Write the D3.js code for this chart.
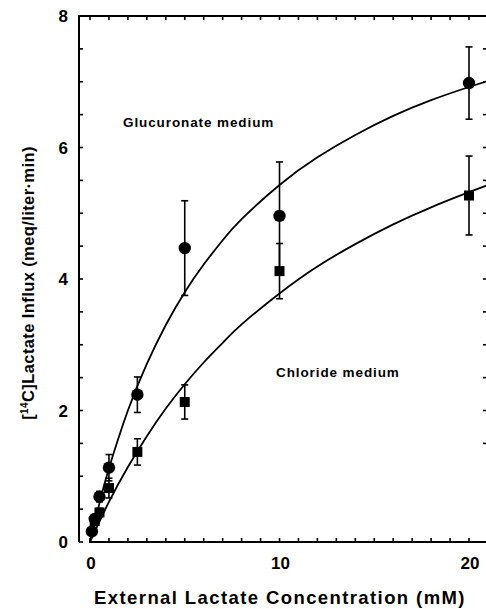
<!DOCTYPE html>
<html>
<head>
<meta charset="utf-8">
<script src="https://cdn.jsdelivr.net/npm/d3@7"></script>
<style>
  html, body { margin: 0; padding: 0; background: #fff; }
  svg { display: block; }
  text { font-family: "Liberation Sans", Arial, Helvetica, sans-serif; font-weight: bold; fill: #000; }
</style>
</head>
<body>
<svg id="chart" width="486" height="609"></svg>
<script>
// ---- data ----
const glucConc   = [0.1, 0.25, 0.5, 1, 2.5, 5, 10, 20];
const glucInflux = [0.16, 0.35, 0.69, 1.13, 2.24, 4.47, 4.96, 6.98];
const glucErr    = [0, 0, 0.08, 0.2, 0.27, 0.72, 0.82, 0.55];

const chlConc    = [0.25, 0.5, 1, 2.5, 5, 10, 20];
const chlInflux  = [0.32, 0.45, 0.82, 1.37, 2.13, 4.12, 5.27];
const chlErr     = [0, 0.06, 0.15, 0.2, 0.26, 0.42, 0.6];

// fitted curves
const glucCurveX = [0, 0.5, 1, 2, 3, 4, 5, 6, 7, 8, 10, 12, 14, 16, 18, 20, 21];
const glucCurveY = [0, 0.59, 1.12, 2.0, 2.71, 3.30, 3.80, 4.22, 4.59, 4.91, 5.43, 5.85, 6.19, 6.48, 6.72, 6.92, 7.01];
const chlCurveX  = [0, 1, 2, 3, 4, 5, 6, 7, 8, 10, 12, 14, 16, 18, 20, 21];
const chlCurveY  = [0, 0.61, 1.14, 1.61, 2.03, 2.40, 2.73, 3.03, 3.31, 3.78, 4.19, 4.53, 4.83, 5.09, 5.32, 5.43];

const xTickLabels = [0, 10, 20];
const yTickLabels = [0, 2, 4, 6, 8];
const xMinorTicks = d3.range(0, 22, 1);
const yMinorTicks = d3.range(0, 8.01, 0.5);
const rightTicks  = d3.range(1.5, 8.01, 0.5);

// ---- scales ----
const x = d3.scaleLinear().domain([0, 20]).range([90, 469]);
const y = d3.scaleLinear().domain([0, 8]).range([542, 16]);

const svg = d3.select("#chart");

// frame
const leftX = 79, rightX = 488;
const frame = svg.append("g").attr("stroke", "#000").attr("stroke-width", 2).attr("fill", "none");
frame.append("line").attr("x1", leftX).attr("x2", leftX).attr("y1", y(8) - 1).attr("y2", y(0));
frame.append("line").attr("x1", leftX).attr("x2", rightX).attr("y1", y(8)).attr("y2", y(8));
frame.append("line").attr("x1", x(0) - 1).attr("x2", rightX).attr("y1", y(0)).attr("y2", y(0));
frame.append("line").attr("x1", rightX).attr("x2", rightX).attr("y1", y(8)).attr("y2", y(0));

// ticks
const ticks = svg.append("g").attr("stroke", "#000").attr("stroke-width", 1.6);
ticks.selectAll(".lt").data(yMinorTicks).join("line")
  .attr("x1", leftX).attr("x2", leftX + 4).attr("y1", d => y(d)).attr("y2", d => y(d));
ticks.selectAll(".rt").data(rightTicks).join("line")
  .attr("x1", rightX - 5).attr("x2", rightX).attr("y1", d => y(d)).attr("y2", d => y(d));
ticks.selectAll(".bt").data(xMinorTicks).join("line")
  .attr("x1", d => x(d)).attr("x2", d => x(d)).attr("y1", y(0)).attr("y2", y(0) - 4);
ticks.selectAll(".tt").data(xMinorTicks).join("line")
  .attr("x1", d => x(d)).attr("x2", d => x(d)).attr("y1", y(8)).attr("y2", y(8) + 4);

// tick labels
svg.selectAll(".yl").data(yTickLabels).join("text")
  .attr("x", 68).attr("y", d => y(d) + 6)
  .attr("text-anchor", "end").attr("font-size", 17).text(d => d);
svg.selectAll(".xl").data(xTickLabels).join("text")
  .attr("x", d => x(d) + 1).attr("y", 569)
  .attr("text-anchor", "middle").attr("font-size", 17).text(d => d);

// axis titles
svg.append("text").attr("x", 280).attr("y", 604).attr("text-anchor", "middle")
  .attr("font-size", 18.5).attr("letter-spacing", 1.4)
  .text("External Lactate Concentration (mM)");

const yt = svg.append("text")
  .attr("transform", "translate(34,283) rotate(-90)")
  .attr("text-anchor", "middle").attr("font-size", 16.5).attr("letter-spacing", 0.4);
yt.append("tspan").text("[");
yt.append("tspan").attr("font-size", 10).attr("dy", -6).text("14");
yt.append("tspan").attr("dy", 6).text("C]Lactate Influx (meq/liter\u00B7min)");

// series labels
svg.append("text").attr("x", 123).attr("y", 127).attr("font-size", 13.5).attr("letter-spacing", 0.9)
  .text("Glucuronate medium");
svg.append("text").attr("x", 276).attr("y", 377).attr("font-size", 13.5).attr("letter-spacing", 0.9)
  .text("Chloride medium");

// curves
const line = d3.line().x(d => x(d[0])).y(d => y(d[1])).curve(d3.curveNatural);
const curves = svg.append("g").attr("fill", "none").attr("stroke", "#000").attr("stroke-width", 1.8);
curves.append("path").attr("d", line(glucCurveX.map((v, i) => [v, glucCurveY[i]])));
curves.append("path").attr("d", line(chlCurveX.map((v, i) => [v, chlCurveY[i]])));

// error bars
function errorBars(cx, cy, ce) {
  const g = svg.append("g").attr("stroke", "#000").attr("stroke-width", 1.6);
  const data = cx.map((v, i) => ({ x: v, y: cy[i], e: ce[i] })).filter(d => d.e > 0);
  g.selectAll(".v").data(data).join("line")
    .attr("x1", d => x(d.x)).attr("x2", d => x(d.x))
    .attr("y1", d => y(d.y - d.e)).attr("y2", d => y(d.y + d.e));
  g.selectAll(".c1").data(data).join("line")
    .attr("x1", d => x(d.x) - 3.5).attr("x2", d => x(d.x) + 3.5)
    .attr("y1", d => y(d.y + d.e)).attr("y2", d => y(d.y + d.e));
  g.selectAll(".c2").data(data).join("line")
    .attr("x1", d => x(d.x) - 3.5).attr("x2", d => x(d.x) + 3.5)
    .attr("y1", d => y(d.y - d.e)).attr("y2", d => y(d.y - d.e));
}
errorBars(glucConc, glucInflux, glucErr);
errorBars(chlConc, chlInflux, chlErr);

// markers
svg.selectAll(".sq").data(chlConc.map((v, i) => [v, chlInflux[i]])).join("rect")
  .attr("x", d => x(d[0]) - 5).attr("y", d => y(d[1]) - 5)
  .attr("width", 10).attr("height", 10).attr("fill", "#000");
svg.selectAll(".ci").data(glucConc.map((v, i) => [v, glucInflux[i]])).join("circle")
  .attr("cx", d => x(d[0])).attr("cy", d => y(d[1])).attr("r", 6.2).attr("fill", "#000");
</script>
</body>
</html>
